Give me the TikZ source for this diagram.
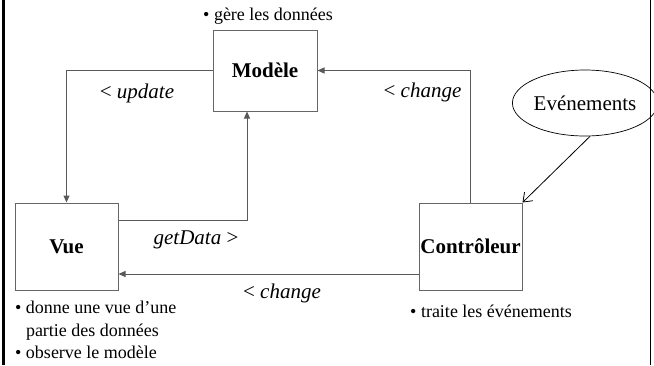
\documentclass[tikz,border=0pt]{standalone}
\usepackage{fontspec}
\setmainfont{Liberation Serif}
\usetikzlibrary{arrows.meta,shapes.geometric}
\begin{document}
\begin{tikzpicture}[x=1pt,y=-1pt,
  box/.style={draw=black!60,line width=1pt,inner sep=0pt,font=\fontsize{21}{24}\selectfont\bfseries},
  conn/.style={draw=black!65,line width=1pt,-{Triangle[length=7pt,width=6pt]}},
  lbl/.style={font=\fontsize{21}{24}\selectfont\itshape,inner sep=0pt},
  note/.style={font=\fontsize{18}{22.5}\selectfont,inner sep=0pt,align=left}]
\useasboundingbox (0,0) rectangle (654,365);
\draw[line width=3pt] (3.5,0) -- (3.5,365);
\draw[line width=1.5pt] (650.5,0) -- (650.5,365);
\node[box,minimum width=104pt,minimum height=81pt] (modele) at (265,70.5) {Modèle};
\node[box,minimum width=103pt,minimum height=87pt] (vue) at (66.5,246.5) {Vue};
\node[box,minimum width=103pt,minimum height=87pt] (ctrl) at (470.5,246.5) {Contrôleur};
\node[draw,ellipse,line width=0.7pt,inner sep=0pt,minimum width=120pt,minimum height=66pt,font=\fontsize{21}{24}\selectfont] (ev) at (585,103) {Evénements};
\draw[conn] (modele.west) -| (vue.north);
\draw[conn] ([yshift=26.5pt]vue.east) -| ([xshift=-18pt]modele.south);
\draw[conn] ([yshift=-27.5pt]ctrl.west) -- ([yshift=-27.5pt]vue.east);
\draw[conn] (ctrl.north) |- (modele.east);
\draw[line width=0.8pt,-{Straight Barb[length=8pt,width=12pt]}] ([xshift=5pt]ev.south) -- (ctrl.north east);
\node[lbl] (l1) at (137,93) {{\upshape<} update};
\node[lbl] (l2) at (422.5,92) {{\upshape<} change};
\node[lbl] (l3) at (196,240) {getData {\upshape>}};
\node[lbl] (l4) at (282,293) {{\upshape<} change};
\node[note,anchor=west] (n1) at (203,16) {• gère les données};
\node[note,anchor=north west] (n2) at (15,301) {• donne une vue d’une\\\phantom{• }partie des données\\• observe le modèle};
\node[note,anchor=west] (n3) at (410,311) {• traite les événements};
\end{tikzpicture}
\end{document}
